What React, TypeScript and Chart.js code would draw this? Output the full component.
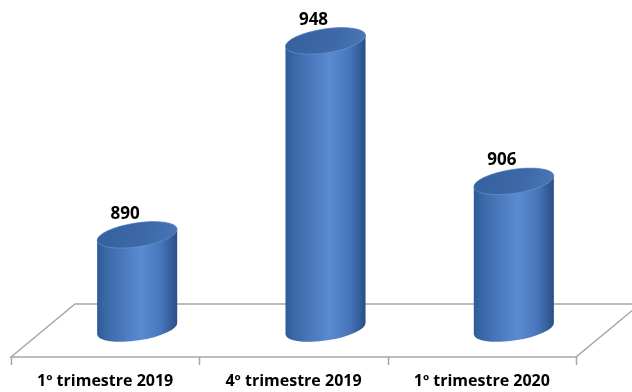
import React, { useEffect, useRef } from 'react';
import { Chart, registerables } from 'chart.js';

Chart.register(...registerables);

const categories = ['1º trimestre 2019', '4º trimestre 2019', '1º trimestre 2020'];
const values = [890, 948, 906];
const axisMin = 862;
const axisMax = 962;

const DEPTH_X = 64;
const DEPTH_Y = 53;
const CYL_SHIFT_Y = 28.5;
const FONT = '"Open Sans", "Liberation Sans", sans-serif';

const cylinderPlugin = {
  id: 'cylinders3d',
  beforeDatasetsDraw(chart: any) {
    const { ctx, chartArea, scales } = chart;
    const xs = scales.x;
    const L = chartArea.left;
    const R = chartArea.right;
    const B = chartArea.bottom;
    ctx.save();
    ctx.strokeStyle = '#a6a6a6';
    ctx.lineWidth = 1.5;
    ctx.beginPath();
    ctx.moveTo(L, B);
    ctx.lineTo(L + DEPTH_X, B - DEPTH_Y);
    ctx.lineTo(R + DEPTH_X, B - DEPTH_Y);
    ctx.lineTo(R, B);
    ctx.closePath();
    ctx.stroke();
    ctx.beginPath();
    for (let i = 0; i <= categories.length; i++) {
      const px = Math.round(xs.getPixelForValue(i - 0.5)) + 0.5;
      ctx.moveTo(px, B);
      ctx.lineTo(px, B + 8);
    }
    ctx.stroke();
    ctx.restore();
  },
  afterDatasetsDraw(chart: any) {
    const { ctx, scales, chartArea } = chart;
    const xs = scales.x;
    const ys = scales.y;
    const meta = chart.getDatasetMeta(0);
    ctx.save();
    meta.data.forEach((bar: any, i: number) => {
      const { x, y, width } = bar.getProps(['x', 'y', 'width'], true);
      const base = ys.getPixelForValue(axisMin);
      const cx = x + DEPTH_X / 2;
      const topY = y - CYL_SHIFT_Y;
      const baseY = base - CYL_SHIFT_Y;
      const rx = width / 2;
      const ry = 12;
      const rot = -0.15;

      // body
      const g = ctx.createLinearGradient(cx - rx, 0, cx + rx, 0);
      g.addColorStop(0, '#2f5a96');
      g.addColorStop(0.12, '#3b68a9');
      g.addColorStop(0.55, '#5a8bd2');
      g.addColorStop(0.8, '#4675ba');
      g.addColorStop(1, '#294d84');
      ctx.beginPath();
      ctx.ellipse(cx, baseY, rx, ry, rot, Math.PI, 0, true);
      ctx.ellipse(cx, topY, rx, ry, rot, 0, Math.PI, true);
      ctx.closePath();
      ctx.fillStyle = g;
      ctx.fill();

      // top
      const tg = ctx.createLinearGradient(cx - rx, topY - ry, cx + rx, topY + ry);
      tg.addColorStop(0, '#35609d');
      tg.addColorStop(0.6, '#3d69a8');
      tg.addColorStop(1, '#4a78b8');
      ctx.beginPath();
      ctx.ellipse(cx, topY, rx, ry, rot, 0, Math.PI * 2);
      ctx.fillStyle = tg;
      ctx.fill();
      ctx.strokeStyle = 'rgba(110,150,210,0.6)';
      ctx.lineWidth = 1;
      ctx.stroke();

      // value label
      ctx.fillStyle = '#000';
      ctx.font = `bold 17px ${FONT}`;
      ctx.textAlign = 'center';
      ctx.textBaseline = 'middle';
      ctx.fillText(String(values[i]), cx - 12, topY - 21);
    });

    // category labels
    ctx.fillStyle = '#000';
    ctx.font = `bold 16px ${FONT}`;
    ctx.textAlign = 'center';
    ctx.textBaseline = 'middle';
    categories.forEach((c, i) => {
      ctx.fillText(c, xs.getPixelForValue(i), chartArea.bottom + 24);
    });
    ctx.restore();
  },
};

export default function App() {
  const ref = useRef<HTMLCanvasElement>(null);
  useEffect(() => {
    if (!ref.current) return;
    const chart = new Chart(ref.current, {
      type: 'bar',
      data: {
        labels: categories,
        datasets: [
          {
            data: values,
            backgroundColor: 'rgba(0,0,0,0)',
            borderWidth: 0,
            barPercentage: 0.43,
            categoryPercentage: 1,
          },
        ],
      },
      options: {
        responsive: false,
        animation: false,
        layout: { padding: { left: 11, right: 56, top: 22.5, bottom: 35 } },
        plugins: { legend: { display: false }, tooltip: { enabled: false } },
        scales: {
          x: { display: false, offset: true },
          y: { display: false, min: axisMin, max: axisMax },
        },
      },
      plugins: [cylinderPlugin],
    });
    return () => chart.destroy();
  }, []);
  return (
    <div style={{ position: 'fixed', left: 0, top: 0, width: 632, height: 392, background: '#fff' }}>
      <canvas ref={ref} width={632} height={392} />
    </div>
  );
}
